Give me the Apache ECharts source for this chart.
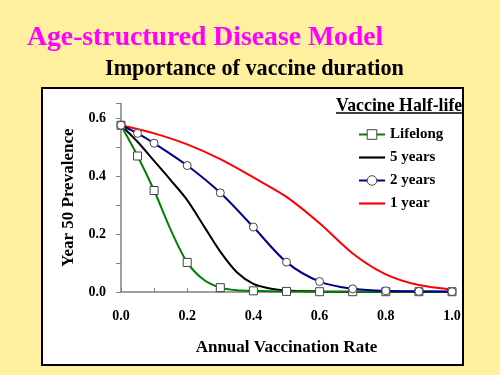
<!DOCTYPE html>
<html><head><meta charset="utf-8">
<script src="https://cdn.jsdelivr.net/npm/echarts@6/dist/echarts.min.js"></script>
<style>html,body{margin:0;padding:0;background:#FEF09E;}#c{width:500px;height:375px;}</style>
</head><body><div id="c"></div>
<script>
var titleText = 'Age-structured Disease Model';
var subtitleText = 'Importance of vaccine duration';
var legendTitle = 'Vaccine Half-life';
var xName = 'Annual Vaccination Rate';
var yName = 'Year 50 Prevalence';
var seriesNames = ['Lifelong', '5 years', '2 years', '1 year'];

var lifelongX = [0, 0.05, 0.1, 0.15, 0.2, 0.25, 0.3, 0.35, 0.4, 0.5, 0.6, 0.7, 0.8, 0.9, 1.0];
var lifelongY = [0.575, 0.469, 0.35, 0.215, 0.102, 0.042, 0.015, 0.006, 0.004, 0.002, 0.001, 0.001, 0.001, 0.001, 0.001];
var lifelongMarks = [1, 1, 1, 0, 1, 0, 1, 0, 1, 1, 1, 1, 1, 1, 1];

var fiveX = [0, 0.05, 0.1, 0.15, 0.2, 0.25, 0.3, 0.35, 0.4, 0.45, 0.5, 0.6, 0.7, 0.8, 0.9, 1.0];
var fiveY = [0.575, 0.518, 0.452, 0.386, 0.317, 0.228, 0.139, 0.068, 0.028, 0.012, 0.005, 0.002, 0.001, 0.001, 0.001, 0.001];

var twoX = [0, 0.05, 0.1, 0.2, 0.3, 0.4, 0.5, 0.6, 0.7, 0.8, 0.9, 1.0];
var twoY = [0.575, 0.547, 0.513, 0.436, 0.342, 0.224, 0.103, 0.036, 0.011, 0.004, 0.002, 0.001];

var oneX = [0, 0.1, 0.2, 0.3, 0.4, 0.5, 0.6, 0.7, 0.8, 0.9, 1.0];
var oneY = [0.575, 0.547, 0.509, 0.458, 0.395, 0.328, 0.237, 0.133, 0.061, 0.024, 0.009];

function pairs(xs, ys, marks) {
  return xs.map(function (x, i) {
    var d = { value: [x, ys[i]] };
    if (marks && !marks[i]) { d.symbol = 'none'; }
    return d;
  });
}

var serif = '"Liberation Serif", "Times New Roman", serif';
var chart = echarts.init(document.getElementById('c'), null, { renderer: 'canvas' });
var markerStyle = { color: '#ffffff', borderColor: '#444444', borderWidth: 1 };
var lineIcon = 'path://M0,0 L24,0 L24,2 L0,2 Z';

chart.setOption({
  backgroundColor: '#FEF09E',
  animation: false,
  textStyle: { fontFamily: serif },
  graphic: [
    { type: 'rect', z: -10, shape: { x: 42, y: 88, width: 421, height: 277 },
      style: { fill: '#ffffff', stroke: '#000000', lineWidth: 2 } },
    { type: 'text', left: 27, top: 24, style: { text: titleText, fill: '#FF00FF',
      font: 'bold 27.7px ' + serif } },
    { type: 'text', left: 105, top: 58, style: { text: subtitleText, fill: '#000000',
      font: 'bold 22.2px ' + serif } },
    { type: 'text', left: 336, top: 97, style: { text: legendTitle, fill: '#000000',
      font: 'bold 17.8px ' + serif } },
    { type: 'line', shape: { x1: 336, y1: 113, x2: 462, y2: 113 },
      style: { stroke: '#000000', lineWidth: 1.5 } }
  ],
  grid: { left: 121, right: 48, top: 103.5, bottom: 83 },
  legend: {
    orient: 'vertical', left: 358, top: 127, padding: 0, itemWidth: 26, itemHeight: 12, itemGap: 8,
    data: [
      { name: seriesNames[0], itemStyle: { color: '#ffffff', borderColor: '#444444', borderWidth: 1 } },
      { name: seriesNames[1], icon: lineIcon, itemHeight: 2 },
      { name: seriesNames[2], itemStyle: { color: '#ffffff', borderColor: '#444444', borderWidth: 1 } },
      { name: seriesNames[3], icon: lineIcon, itemHeight: 2 }
    ],
    textStyle: { fontFamily: serif, fontWeight: 'bold', fontSize: 15, color: '#000' }
  },
  xAxis: {
    type: 'value', min: 0, max: 1.0, interval: 0.1,
    name: xName, nameLocation: 'middle', nameGap: 47,
    nameTextStyle: { fontFamily: serif, fontWeight: 'bold', fontSize: 17, color: '#000' },
    axisLine: { lineStyle: { color: '#808080', width: 1.5 } },
    axisTick: { inside: true, length: 4, lineStyle: { color: '#808080' } },
    splitLine: { show: false },
    axisLabel: { margin: 17, fontFamily: serif, fontWeight: 'bold', fontSize: 14, color: '#000',
      formatter: function (v) { var k = Math.round(v * 10); return k % 2 === 0 ? v.toFixed(1) : ''; } }
  },
  yAxis: {
    type: 'value', min: 0, max: 0.65, interval: 0.1,
    name: yName, nameLocation: 'middle', nameGap: 35, nameRotate: 90,
    nameTextStyle: { fontFamily: serif, fontWeight: 'bold', fontSize: 17, color: '#000' },
    axisLine: { show: true, lineStyle: { color: '#808080', width: 1.5 } },
    axisTick: { show: true, inside: false, length: 5, lineStyle: { color: '#808080' } },
    splitLine: { show: false },
    axisLabel: { margin: 15, fontFamily: serif, fontWeight: 'bold', fontSize: 14, color: '#000',
      formatter: function (v) { var k = Math.round(v * 100); return (k % 20 === 0) ? v.toFixed(1) : ''; } }
  },
  series: [
    { name: seriesNames[0], type: 'line', smooth: 0.3, symbol: 'rect', symbolSize: 8,
      data: pairs(lifelongX, lifelongY, lifelongMarks), z: 4,
      lineStyle: { color: '#008000', width: 2 }, itemStyle: markerStyle, color: '#008000' },
    { name: seriesNames[1], type: 'line', smooth: 0.3, symbol: 'none',
      data: pairs(fiveX, fiveY), z: 3,
      lineStyle: { color: '#000000', width: 2 }, itemStyle: { color: '#000000' }, color: '#000000' },
    { name: seriesNames[2], type: 'line', smooth: 0.3, symbol: 'circle', symbolSize: 8,
      data: pairs(twoX, twoY), z: 5,
      lineStyle: { color: '#000090', width: 2 }, itemStyle: markerStyle, color: '#000090' },
    { name: seriesNames[3], type: 'line', smooth: 0.3, symbol: 'none',
      data: pairs(oneX, oneY), z: 2,
      lineStyle: { color: '#FF0000', width: 2 }, itemStyle: { color: '#FF0000' }, color: '#FF0000' }
  ]
});
</script></body></html>
